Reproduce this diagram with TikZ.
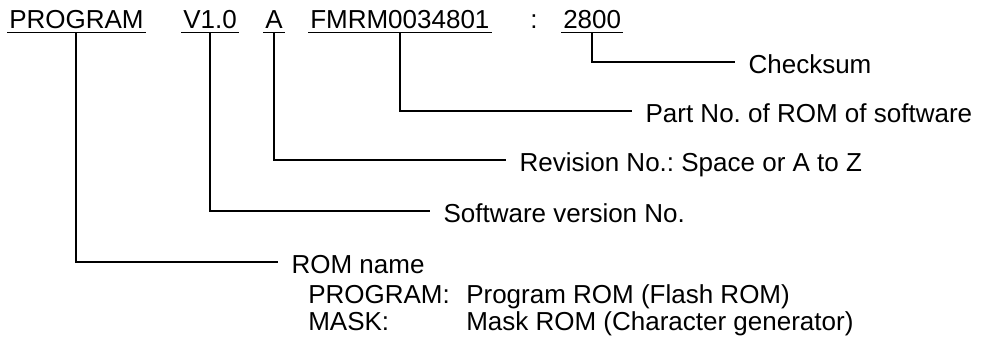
\documentclass[tikz,border=0pt]{standalone}
\usepackage{fontspec}
\setmainfont{Liberation Sans}
\usetikzlibrary{positioning}
\frenchspacing

\begin{document}
\begin{tikzpicture}[x=0.75pt,y=0.75pt]
\tikzset{
  txt/.style={font=\fontsize{19.5pt}{23pt}\selectfont,inner sep=0pt},
  fld/.style={txt,anchor=base west,inner xsep=1.5pt,inner ysep=3pt,text depth=0pt},
  lbl/.style={txt,anchor=west,inner xsep=10pt,text height=18pt,text depth=1.5pt},
  ul/.style={line width=1.1pt},
  ln/.style={line width=1.5pt}
}
\useasboundingbox (0,0) rectangle (983,-344);
% version string
\node[fld] (prog) at (7,-28) {PROGRAM};
\node[fld] (ver) at (181,-28) {V1.0};
\node[fld] (rev) at (263,-28) {A};
\node[fld] (part) at (308,-28) {FMRM0034801};
\node[txt,anchor=base west] (colon) at (530,-28) {:};
\node[fld] (sum) at (561,-28) {2800};
\foreach \n in {prog,ver,rev,part,sum}
  \draw[ul] (\n.south west) -- (\n.south east);
% meanings
\node[lbl] (chk) at (735,-62) {Checksum};
\node[lbl] (partno) at (632,-111) {Part No. of ROM of software};
\node[lbl] (revno) at (506,-160) {Revision No.: Space or A to Z};
\node[lbl] (swver) at (430,-211) {Software version No.};
\node[lbl] (romname) at (278,-262) {ROM name};
\draw[ln] (sum.south) |- (chk.west);
\draw[ln] (part.south) |- (partno.west);
\draw[ln] (rev.south) |- (revno.west);
\draw[ln] (ver.south) |- (swver.west);
\draw[ln] (prog.south) |- (romname.west);
% ROM name kinds
\node[txt,anchor=base west] (pgkey) at (308,-303) {PROGRAM:};
\node[txt,anchor=base west] (pgval) at (466,-303) {Program ROM (Flash ROM)};
\node[txt,anchor=base west] (mkkey) at (308,-330) {MASK:};
\node[txt,anchor=base west] (mkval) at (466,-330) {Mask ROM (Character generator)};
\end{tikzpicture}
\end{document}
